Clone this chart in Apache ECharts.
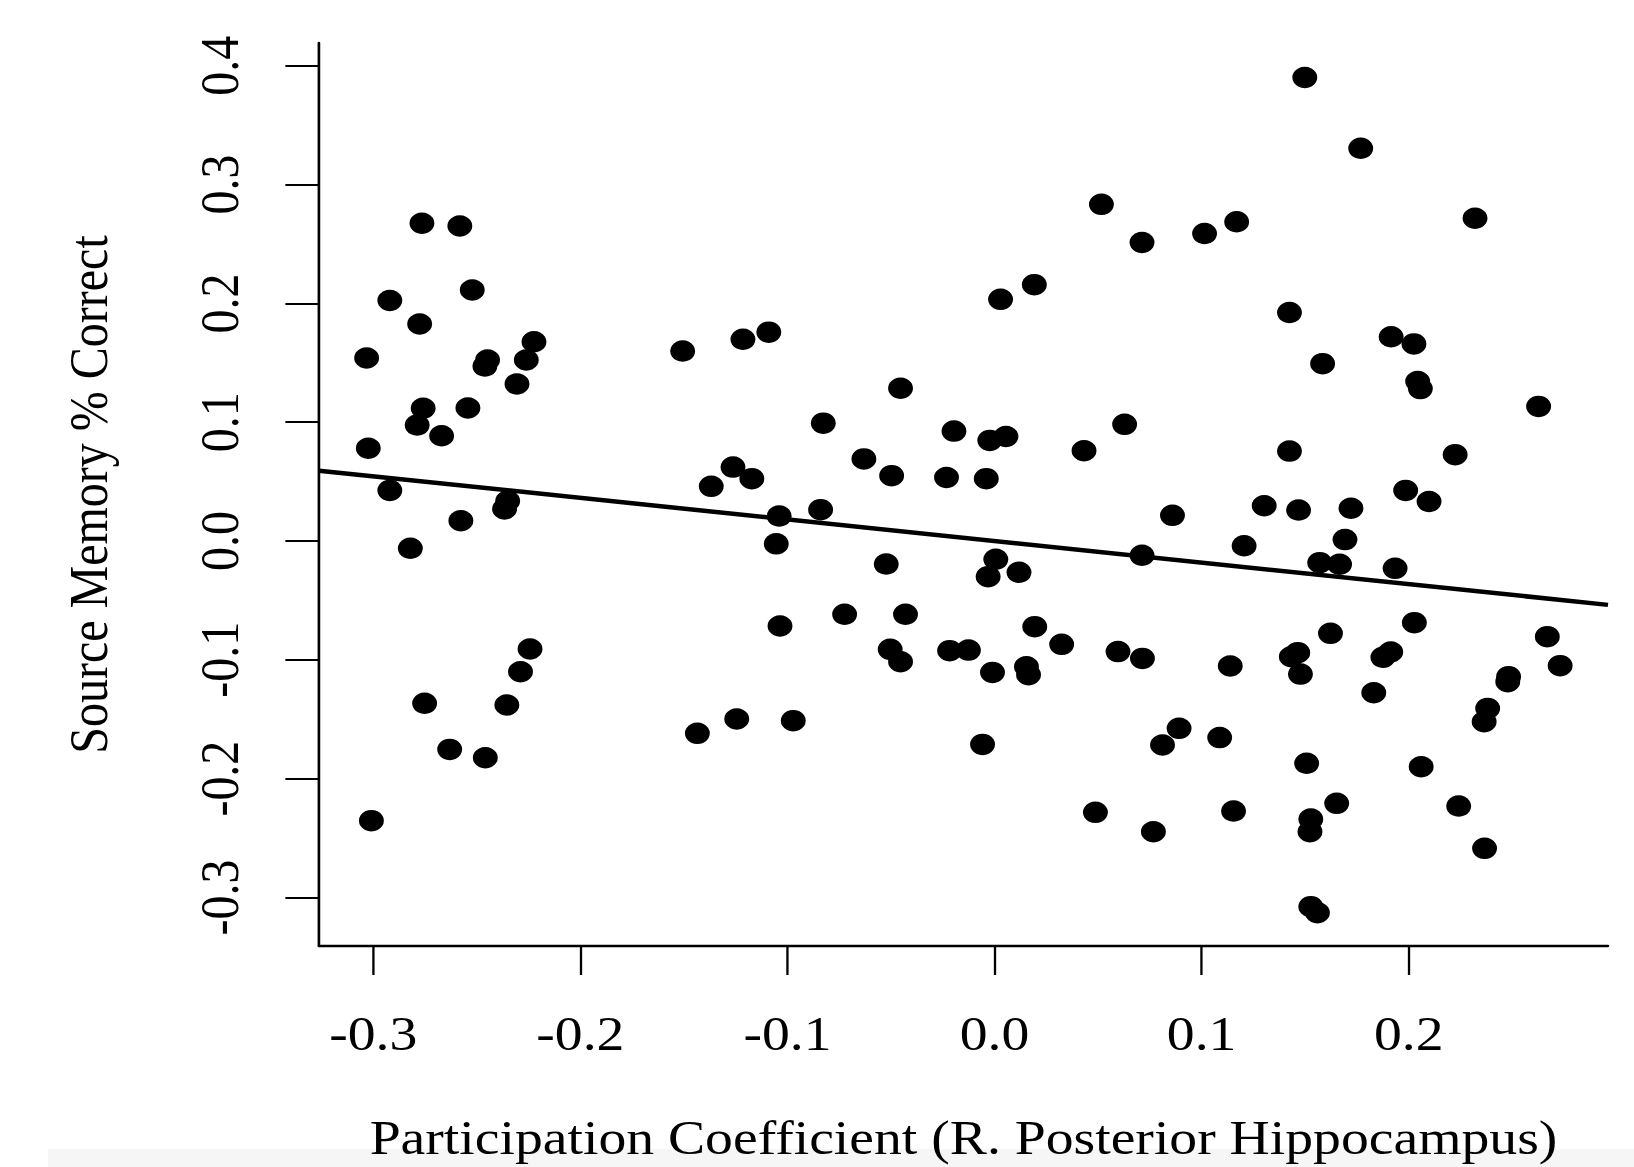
<!DOCTYPE html>
<html>
<head>
<meta charset="utf-8">
<script src="https://cdn.jsdelivr.net/npm/echarts@6/dist/echarts.min.js"></script>
<style>
  html, body { margin: 0; padding: 0; background: #ffffff; overflow: hidden; }
  #chart { width: 1409px; height: 1167px; transform: scaleX(1.15968); transform-origin: 0 0; }
</style>
</head>
<body>
<div id="chart"></div>
<script>
// ---- data ----
const xValues = [
  -0.2765,-0.2582,-0.2522,-0.2920,-0.2776,-0.3032,-0.2448,-0.2461,-0.2224,-0.2261,-0.2306,-0.2759,-0.2788,-0.2670,
  -0.2543,-0.3024,-0.2920,-0.2351,-0.2366,-0.2577,-0.2821,-0.2243,-0.2289,-0.2752,-0.2355,-0.2631,-0.2459,-0.3009,
  -0.1506,-0.1215,-0.1090,-0.0454,-0.0827,-0.0631,-0.1263,-0.1172,-0.1368,-0.0497,-0.0196,-0.0232,-0.0023,0.0055,
  -0.0040,0.0029,0.0192,-0.1040,-0.0840,-0.1054,-0.0523,0.0006,-0.0031,0.0118,-0.0724,-0.0430,-0.1036,-0.0504,
  -0.0454,-0.0217,-0.0126,-0.0010,0.0154,0.0164,0.0194,0.0324,-0.0058,-0.1435,-0.1245,-0.0972,
  0.1498,0.1768,0.0516,0.0712,0.1014,0.1169,0.2320,0.1424,0.1915,0.2025,0.1584,0.2043,0.2056,0.2627,0.0628,0.0432,
  0.1424,0.2224,0.1985,0.2098,0.0859,0.1302,0.1468,0.1721,0.1692,0.1205,0.0712,0.1570,0.1666,0.1934,0.0596,0.0714,
  0.1138,0.1464,0.1433,0.1477,0.1622,0.1913,0.1875,0.2027,0.1831,0.2669,0.2731,0.2482,0.2478,0.2381,0.2364,0.0891,
  0.0811,0.1087,0.1507,0.2060,0.0487,0.0767,0.1154,0.1652,0.1527,0.1523,0.2241,0.2366,0.1527,0.1559
];
const yValues = [
  0.2675,0.2652,0.2113,0.2025,0.1827,0.1541,0.1524,0.1473,0.1677,0.1524,0.1322,0.1118,0.0976,0.0886,
  0.1120,0.0781,0.0426,0.0337,0.0270,0.0171,-0.0061,-0.0909,-0.1100,-0.1366,-0.1380,-0.1754,-0.1824,-0.2354,
  0.1599,0.1698,0.1758,0.1286,0.0992,0.0691,0.0622,0.0525,0.0460,0.0550,0.0925,0.0535,0.0847,0.0880,
  0.0525,0.2034,0.2158,0.0210,0.0264,-0.0024,-0.0194,-0.0154,-0.0300,-0.0263,-0.0617,-0.0617,-0.0715,-0.0912,
  -0.1016,-0.0923,-0.0918,-0.1106,-0.1058,-0.1125,-0.0721,-0.0870,-0.1712,-0.1619,-0.1498,-0.1512,
  0.3902,0.3306,0.2834,0.2513,0.2588,0.2687,0.2717,0.1923,0.1719,0.1659,0.1493,0.1343,0.1283,0.1133,0.0982,0.0760,
  0.0757,0.0727,0.0426,0.0333,0.0216,0.0297,0.0261,0.0276,0.0012,-0.0040,-0.0120,-0.0182,-0.0196,-0.0230,-0.0931,-0.0988,
  -0.1052,-0.0940,-0.0974,-0.1120,-0.0777,-0.0934,-0.0979,-0.0687,-0.1277,-0.0805,-0.1049,-0.1142,-0.1184,-0.1409,-0.1521,-0.1577,
  -0.1717,-0.1655,-0.1871,-0.1900,-0.2284,-0.2447,-0.2273,-0.2208,-0.2340,-0.2447,-0.2231,-0.2587,-0.3078,-0.3129
];
const xTicks = [-0.3, -0.2, -0.1, 0.0, 0.1, 0.2];
const yTicks = [-0.3, -0.2, -0.1, 0.0, 0.1, 0.2, 0.3, 0.4];
const xRange = [-0.3262, 0.2962];
const yRange = [-0.3409, 0.4192];
const fitIntercept = 0.0;
const fitSlope = -0.1815;
const xTitle = 'Participation Coefficient (R. Posterior Hippocampus)';
const yTitle = 'Source Memory % Correct';

// ---- chart ----
const K = 1634 / 1409; // the reference is stretched horizontally; the div is scaled by K
const chart = echarts.init(document.getElementById('chart'), null, { renderer: 'svg' });
const font = 'Liberation Serif, Times New Roman, serif';
const points = xValues.map((x, i) => [x, yValues[i]]);
const fitLine = xRange.map(x => [x, fitIntercept + fitSlope * x]);

chart.setOption({
  animation: false,
  backgroundColor: '#ffffff',
  grid: { left: 319 / K, right: 1409 - 1608 / K, top: 43, bottom: 221, outerBoundsMode: 'none' },
  xAxis: {
    type: 'value', min: xRange[0], max: xRange[1],
    axisLine: { show: true, onZero: false, lineStyle: { color: '#000', width: 2.3 } },
    axisTick: { show: true, customValues: xTicks, length: 29, lineStyle: { color: '#000', width: 2 } },
    axisLabel: { customValues: xTicks, formatter: v => v.toFixed(1), margin: 64,
      fontSize: 48, fontFamily: font, color: '#000' },
    splitLine: { show: false },
    name: xTitle, nameLocation: 'middle', nameGap: 168,
    nameTextStyle: { fontSize: 48, fontFamily: font, color: '#000' }
  },
  yAxis: {
    type: 'value', min: yRange[0], max: yRange[1],
    axisLine: { show: true, onZero: false, lineStyle: { color: '#000', width: 2.3 } },
    axisTick: { show: true, customValues: yTicks, length: 29, lineStyle: { color: '#000', width: 2 } },
    axisLabel: { customValues: yTicks, formatter: v => v.toFixed(1), rotate: 90, margin: 62,
      fontSize: 48, fontFamily: font, color: '#000' },
    splitLine: { show: false },
    name: yTitle, nameLocation: 'middle', nameGap: 175, nameRotate: 90,
    nameTextStyle: { fontSize: 48, fontFamily: font, color: '#000' }
  },
  graphic: [{
    type: 'rect', z: -1, silent: true,
    shape: { x: 48 / K, y: 1149, width: 1409, height: 20 },
    style: { fill: '#f6f6f6' }
  }],
  series: [
    {
      type: 'line', data: fitLine, showSymbol: false, symbol: 'none',
      lineStyle: { color: '#000', width: 4.5 }, silent: true, z: 2
    },
    {
      type: 'scatter', data: points, symbol: 'circle', symbolSize: 21.5,
      itemStyle: { color: '#000', opacity: 1 }, silent: true, z: 3
    }
  ]
});
</script>
</body>
</html>
